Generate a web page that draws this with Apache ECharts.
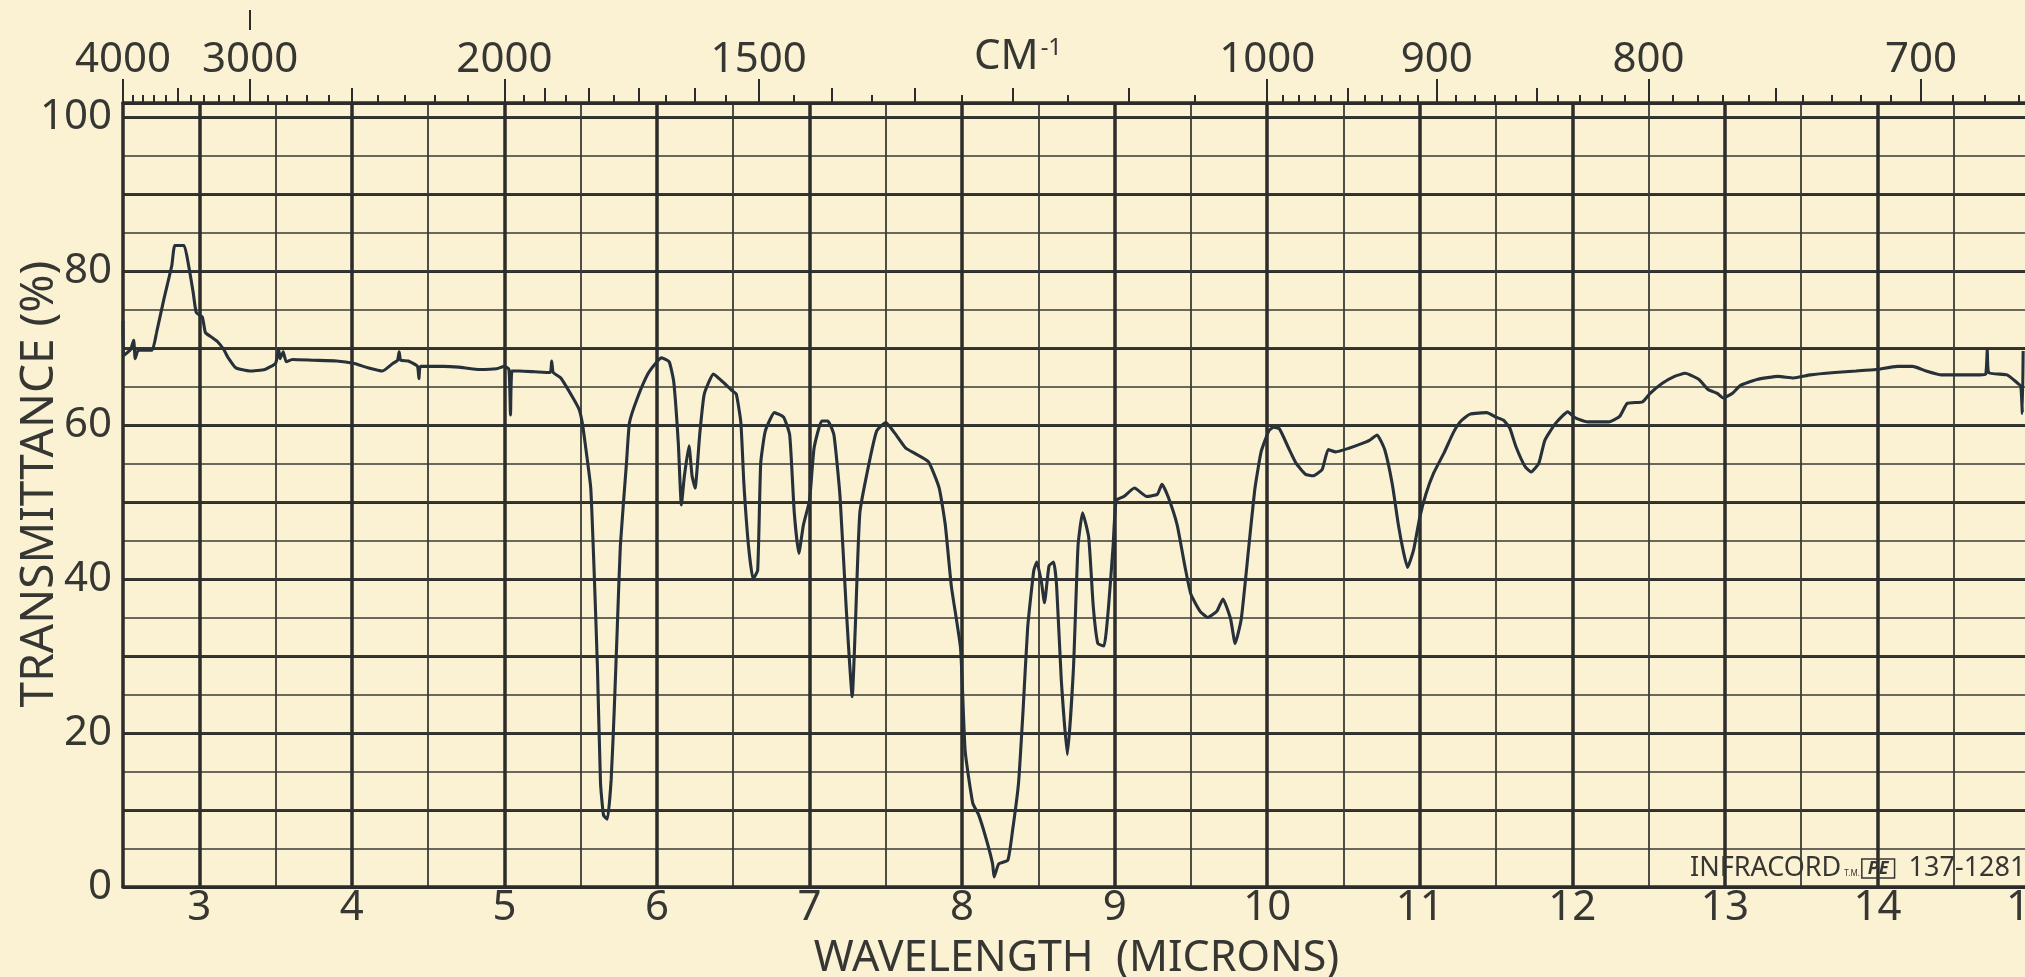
<!DOCTYPE html>
<html>
<head>
<meta charset="utf-8">
<title>Infracord IR spectrum</title>
<script src="https://cdn.jsdelivr.net/npm/echarts@6/dist/echarts.min.js"></script>
<style>
  html, body { margin: 0; padding: 0; background: #fbf2d4; }
  #chart { width: 2025px; height: 977px; }
</style>
</head>
<body>
<div id="chart"></div>
<script>
// ---- data ----
// wavelength in microns, transmittance in %
var wavelength = [
    2.50, 2.505, 2.55, 2.57, 2.58, 2.60, 2.69, 2.72, 2.77, 2.82, 2.84, 2.90, 2.93, 2.96, 2.98,
    3.02, 3.04, 3.08, 3.12, 3.16, 3.19, 3.24, 3.33, 3.43, 3.50, 3.52, 3.53, 3.55, 3.57, 3.61,
    3.75, 3.90, 4.01, 4.11, 4.20, 4.27, 4.30, 4.31, 4.32, 4.37, 4.43, 4.44, 4.45, 4.60, 4.70,
    4.84, 4.95, 5.00, 5.03, 5.04, 5.05, 5.10, 5.20, 5.30, 5.31, 5.32, 5.37, 5.45, 5.49, 5.51,
    5.53, 5.566, 5.59, 5.61, 5.63, 5.65, 5.675, 5.70, 5.72, 5.74, 5.76, 5.80, 5.82, 5.87, 5.94,
    6.00, 6.03, 6.08, 6.11, 6.14, 6.16, 6.18, 6.21, 6.23, 6.25, 6.28, 6.31, 6.37, 6.42, 6.49,
    6.52, 6.55, 6.57, 6.60, 6.63, 6.66, 6.68, 6.71, 6.77, 6.83, 6.87, 6.90, 6.93, 6.96, 7.00,
    7.03, 7.08, 7.12, 7.16, 7.20, 7.24, 7.28, 7.30, 7.33, 7.39, 7.44, 7.50, 7.56, 7.63, 7.69,
    7.78, 7.85, 7.89, 7.93, 7.99, 8.02, 8.07, 8.11, 8.16, 8.20, 8.21, 8.24, 8.30, 8.33, 8.37,
    8.40, 8.43, 8.47, 8.49, 8.52, 8.54, 8.57, 8.60, 8.62, 8.65, 8.69, 8.73, 8.76, 8.79, 8.83,
    8.86, 8.89, 8.93, 8.96, 8.99, 9.01, 9.06, 9.13, 9.21, 9.28, 9.31, 9.35, 9.41, 9.46, 9.50,
    9.56, 9.61, 9.67, 9.71, 9.76, 9.79, 9.83, 9.88, 9.92, 9.96, 10.01, 10.04, 10.08, 10.14, 10.19,
    10.25, 10.30, 10.36, 10.40, 10.45, 10.54, 10.61, 10.67, 10.72, 10.77, 10.82, 10.86, 10.89, 10.92, 10.96,
    11.00, 11.04, 11.09, 11.16, 11.22, 11.27, 11.33, 11.44, 11.50, 11.55, 11.59, 11.63, 11.69, 11.73, 11.78,
    11.82, 11.89, 11.97, 12.02, 12.10, 12.24, 12.31, 12.36, 12.46, 12.51, 12.59, 12.67, 12.74, 12.83, 12.89,
    12.95, 12.99, 13.05, 13.10, 13.21, 13.35, 13.45, 13.56, 13.72, 13.86, 13.99, 14.13, 14.23, 14.32, 14.42,
    14.53, 14.67, 14.71, 14.72, 14.73, 14.85, 14.92, 14.94, 14.95, 14.955
];
var transmittance = [
    73.5, 69.0, 69.8, 71.0, 68.6, 69.7, 69.7, 72.0, 76.5, 80.7, 83.3, 83.3, 80.7, 77.2, 74.6,
    74.0, 72.0, 71.4, 70.8, 69.8, 68.7, 67.4, 67.0, 67.2, 68.0, 69.8, 68.6, 69.5, 68.2, 68.5,
    68.4, 68.3, 68.0, 67.4, 67.0, 68.0, 68.4, 69.5, 68.4, 68.3, 67.6, 66.0, 67.6, 67.6, 67.5,
    67.2, 67.3, 67.6, 67.2, 61.3, 67.0, 67.0, 66.9, 66.8, 68.3, 66.8, 66.1, 63.5, 62.0, 60.3,
    57.5, 51.8, 40.0, 28.4, 13.5, 9.3, 8.8, 14.0, 23.0, 33.7, 44.3, 55.0, 60.3, 63.4, 66.6,
    68.2, 68.7, 68.2, 65.6, 57.6, 49.6, 53.4, 57.3, 53.4, 51.8, 58.7, 64.0, 66.6, 65.8, 64.5,
    64.0, 60.3, 52.3, 44.3, 40.0, 41.1, 55.0, 59.2, 61.6, 61.0, 58.7, 48.6, 43.3, 47.0, 50.2,
    57.0, 60.5, 60.5, 58.7, 50.7, 36.4, 24.7, 33.7, 48.6, 55.0, 59.2, 60.3, 58.9, 57.0, 56.3,
    55.2, 51.8, 47.0, 39.0, 31.0, 17.7, 10.9, 9.3, 6.1, 3.0, 1.3, 3.0, 3.5, 7.2, 13.5,
    23.0, 33.7, 41.1, 42.2, 39.6, 36.9, 41.7, 42.2, 39.0, 27.0, 17.2, 28.4, 44.3, 48.6, 45.4,
    36.4, 31.6, 31.3, 36.4, 44.3, 50.2, 50.7, 51.8, 50.7, 51.0, 52.3, 50.7, 47.0, 41.7, 38.0,
    35.8, 35.0, 35.8, 37.4, 34.8, 31.6, 34.8, 44.3, 51.8, 56.5, 59.2, 59.7, 59.5, 57.0, 55.0,
    53.6, 53.4, 54.2, 56.8, 56.5, 57.0, 57.5, 58.0, 58.7, 56.8, 52.3, 47.0, 43.8, 41.5, 43.8,
    48.0, 51.0, 53.7, 56.4, 59.0, 60.5, 61.4, 61.6, 61.0, 60.6, 59.6, 57.2, 54.6, 53.9, 55.0,
    58.0, 60.2, 61.7, 60.9, 60.4, 60.4, 61.1, 62.8, 63.0, 64.1, 65.4, 66.3, 66.7, 65.9, 64.6,
    64.1, 63.5, 64.1, 65.1, 65.9, 66.3, 66.1, 66.5, 66.8, 67.0, 67.2, 67.6, 67.6, 67.0, 66.5,
    66.5, 66.5, 66.6, 69.8, 66.8, 66.5, 65.4, 65.0, 61.5, 69.6
];

// top scale, in wavenumbers (cm-1)
var wnLabels = [4000, 3000, 2000, 1500, 1000, 900, 800, 700];
var wnMedium = [3500, 2500, 1900, 1800, 1700, 1600, 1400, 1300, 1200, 1100, 950, 850, 750];
var wnMinor = [
    3900, 3800, 3700, 3600, 3400, 3300, 3200, 3100, 2900, 2800, 2700, 2600,
    2400, 2300, 2200, 2100, 1950, 1850, 1750, 1650, 1550, 1450, 1350, 1250, 1150, 1050,
    990, 980, 970, 960, 940, 930, 920, 910, 890, 880, 870, 860, 840, 830, 820, 810,
    790, 780, 770, 760, 740, 730, 720, 710, 690, 680, 670
];
var wnMark = [3000];

var yLabels = [0, 20, 40, 60, 80, 100];

function toMicron(wn) {
    return 10000 / wn;
}

var ink = '#2c2d2a';
var inkThin = '#3a3a36';
var textInk = '#363632';
var fontName = '"Noto Sans", "DejaVu Sans", sans-serif';

var domChart = document.getElementById('chart');
var myChart = echarts.init(domChart);

var points = wavelength.map(function(w, i) {
    return [w, transmittance[i]];
});

var xMin = 2.5,
    xMax = 15;

function topAxis(values, len, withLine, withLabel) {
    return {
        type: 'value',
        position: 'top',
        min: xMin,
        max: xMax,
        axisLine: {
            show: withLine,
            onZero: false,
            lineStyle: { color: ink, width: 3.5 }
        },
        axisTick: {
            show: true,
            customValues: values.map(toMicron),
            length: len,
            lineStyle: { color: ink, width: 2 }
        },
        axisLabel: withLabel ? {
            show: true,
            customValues: values.map(toMicron),
            formatter: function(v) {
                return String(Math.round(10000 / v));
            },
            fontSize: 42,
            fontFamily: fontName,
            color: textInk,
            margin: 22
        } : { show: false },
        splitLine: { show: false }
    };
}

var option = {
    backgroundColor: '#fbf2d4',
    animation: false,
    grid: {
        left: 123,
        top: 103,
        width: 1907,
        bottom: 90,
        containLabel: false,
        outerBoundsMode: 'none'
    },
    xAxis: [{
            // thin half-micron lines and labels
            type: 'value',
            position: 'bottom',
            min: xMin,
            max: xMax,
            interval: 0.5,
            axisLine: {
                show: true,
                onZero: false,
                lineStyle: { color: ink, width: 3.5 }
            },
            axisTick: { show: false },
            axisLabel: {
                formatter: function(v) {
                    return Math.abs(v - Math.round(v)) < 1e-6 ? String(Math.round(v)) : '';
                },
                fontSize: 42,
                fontFamily: fontName,
                color: textInk,
                margin: 0
            },
            splitLine: {
                show: true,
                showMinLine: true,
                lineStyle: { color: inkThin, width: 1.8 }
            },
            name: 'WAVELENGTH  (MICRONS)',
            nameLocation: 'middle',
            nameGap: 50,
            nameMoveOverlap: false,
            nameTextStyle: {
                fontSize: 43,
                fontFamily: fontName,
                color: textInk
            }
        },
        {
            // thick whole-micron lines
            type: 'value',
            position: 'bottom',
            min: xMin,
            max: xMax,
            interval: 0.5,
            axisLine: { show: false },
            axisTick: { show: false },
            axisLabel: { show: false },
            splitLine: {
                show: true,
                showMinLine: true,
                showMaxLine: true,
                lineStyle: { color: ['rgba(0,0,0,0)', ink], width: 3.5 }
            }
        },
        topAxis(wnLabels, 24, true, true),
        topAxis(wnMedium, 15, false, false),
        topAxis(wnMinor, 8, false, false),
        Object.assign(topAxis(wnMark, 20, false, false), { offset: 73 })
    ],
    yAxis: [{
            type: 'value',
            position: 'left',
            min: 0,
            max: 101.8,
            interval: 10,
            axisLine: {
                show: true,
                onZero: false,
                lineStyle: { color: ink, width: 3.5 }
            },
            axisTick: { show: false },
            axisLabel: {
                formatter: function(v) {
                    return yLabels.indexOf(v) >= 0 ? String(v) : '';
                },
                fontSize: 42,
                fontFamily: fontName,
                color: textInk,
                margin: 11
            },
            splitLine: {
                show: true,
                lineStyle: { color: ink, width: 3.2 }
            },
            name: 'TRANSMITTANCE (%)',
            nameLocation: 'middle',
            nameRotate: 90,
            nameGap: 60,
            nameMoveOverlap: false,
            nameTextStyle: {
                fontSize: 46,
                fontFamily: fontName,
                color: textInk,
                padding: [0, 0, 0, 22]
            }
        },
        {
            type: 'value',
            position: 'left',
            min: 0,
            max: 101.8,
            interval: 5,
            axisLine: { show: false },
            axisTick: { show: false },
            axisLabel: { show: false },
            splitLine: {
                show: true,
                lineStyle: { color: inkThin, width: 1.7 }
            }
        }
    ],
    graphic: [{
            type: 'text',
            left: 974,
            top: 36,
            style: {
                text: '{a|CM}{b|-1}',
                fill: textInk,
                rich: {
                    a: { fontSize: 42, fontFamily: fontName, fill: textInk },
                    b: { fontSize: 24, fontFamily: fontName, fill: textInk, verticalAlign: 'top', padding: [0, 0, 14, 2] }
                }
            }
        },
        {
            type: 'text',
            left: 1690,
            top: 855,
            z: 10,
            style: {
                text: '{a|INFRACORD}{t|T.M.}{p|PE}{a|  137-1281}',
                fill: textInk,
                rich: {
                    a: { fontSize: 27, fontFamily: fontName, fill: textInk },
                    t: { fontSize: 8, fontFamily: fontName, fill: textInk, padding: [10, 2, 0, 3] },
                    p: { fontSize: 18, fontFamily: fontName, fontStyle: 'italic', fontWeight: 'bold', fill: textInk, borderColor: textInk, borderWidth: 1.5, padding: [1, 6, 0, 6] }
                }
            }
        }
    ],
    series: [{
        name: 'Transmittance',
        type: 'line',
        xAxisIndex: 0,
        yAxisIndex: 0,
        showSymbol: false,
        smooth: 0.15,
        lineStyle: { color: '#27313a', width: 3.1 },
        data: points,
        z: 5
    }]
};

myChart.setOption(option);

window.addEventListener('resize', function() {
    myChart.resize();
});
</script>
</body>
</html>
